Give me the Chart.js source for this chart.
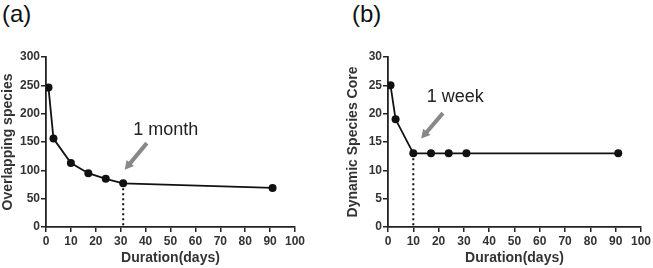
<!DOCTYPE html>
<html>
<head>
<meta charset="utf-8">
<script src="https://cdn.jsdelivr.net/npm/chart.js@4.4.1/dist/chart.umd.min.js"></script>
<style>
  html, body { margin: 0; padding: 0; background: #fff; }
  body { width: 653px; height: 268px; position: relative; overflow: hidden; font-family: "Liberation Sans", Arial, sans-serif; }
  .panel { position: absolute; top: 0; height: 268px; }
  .tag { position: absolute; top: 0; font-size: 24px; color: #111; }
</style>
</head>
<body>
<div class="tag" style="left:2px;">(a)</div>
<div class="tag" style="left:352px;">(b)</div>
<div class="panel" style="left:0; width:326px;"><canvas id="chart-a"></canvas></div>
<div class="panel" style="left:330px; width:323px;"><canvas id="chart-b"></canvas></div>
<script>
// sampling days shared by both panels
const days = [1, 3, 10, 17, 24, 31, 91];
const overlapping = [246, 156, 113, 95, 85, 77, 69];
const dynamicCore = [25, 19, 13, 13, 13, 13, 13];
const xTicks = [0, 10, 20, 30, 40, 50, 60, 70, 80, 90, 100];

// annotation: cutoff day, arrow tail/head and label, in data units
const noteA = { day: 31, value: 77, label: '1 month', from: [40.5, 148], to: [31.6, 101], text: [35, 171] };
const noteB = { day: 10, value: 13, label: '1 week', from: [21.7, 20.1], to: [13.1, 15.6], text: [15.3, 23] };

const annotate = {
    id: 'annotate',
    afterDatasetsDraw(chart, args, opts) {
        const n = opts.note;
        const x = chart.scales.x, y = chart.scales.y;
        const c = chart.ctx;
        c.save();
        // dotted cutoff line
        c.strokeStyle = '#111';
        c.lineWidth = 2;
        c.setLineDash([2, 3]);
        c.beginPath();
        c.moveTo(x.getPixelForValue(n.day), y.getPixelForValue(n.value) + 5);
        c.lineTo(x.getPixelForValue(n.day), y.getPixelForValue(0));
        c.stroke();
        c.setLineDash([]);
        // arrow
        const x1 = x.getPixelForValue(n.from[0]), y1 = y.getPixelForValue(n.from[1]);
        const x2 = x.getPixelForValue(n.to[0]), y2 = y.getPixelForValue(n.to[1]);
        const ang = Math.atan2(y2 - y1, x2 - x1);
        const head = 10;
        c.strokeStyle = '#888';
        c.fillStyle = '#888';
        c.lineWidth = 4;
        c.beginPath();
        c.moveTo(x1, y1);
        c.lineTo(x2 - Math.cos(ang) * head * 0.8, y2 - Math.sin(ang) * head * 0.8);
        c.stroke();
        c.beginPath();
        c.moveTo(x2, y2);
        c.lineTo(x2 - head * Math.cos(ang - 0.5), y2 - head * Math.sin(ang - 0.5));
        c.lineTo(x2 - head * Math.cos(ang + 0.5), y2 - head * Math.sin(ang + 0.5));
        c.closePath();
        c.fill();
        // label
        c.fillStyle = '#222';
        c.font = '18px "Liberation Sans", Arial, sans-serif';
        c.textBaseline = 'middle';
        c.fillText(n.label, x.getPixelForValue(n.text[0]), y.getPixelForValue(n.text[1]));
        c.restore();
    }
};

function makeChart(id, values, yMax, yStep, yTitle, note, axisW, padLeft, padRight) {
    const tickFont = { family: '"Liberation Sans", Arial, sans-serif', size: 12, weight: 'bold' };
    const titleFont = { family: '"Liberation Sans", Arial, sans-serif', size: 14, weight: 'bold' };
    return new Chart(document.getElementById(id), {
        type: 'scatter',
        data: {
            datasets: [{
                data: days.map((d, i) => ({ x: d, y: values[i] })),
                showLine: true,
                borderColor: '#111',
                borderWidth: 1.8,
                backgroundColor: '#111',
                pointRadius: 4,
                pointBorderWidth: 0
            }]
        },
        options: {
            responsive: true,
            maintainAspectRatio: false,
            animation: false,
            layout: { padding: { left: padLeft, right: padRight, top: 57, bottom: 0 } },
            plugins: { legend: { display: false }, tooltip: { enabled: false }, annotate: { note } },
            scales: {
                x: {
                    type: 'linear', min: 0, max: 100,
                    afterBuildTicks: s => { s.ticks = xTicks.map(v => ({ value: v })); },
                    afterFit: s => { s.height = 41; },
                    grid: { display: true, drawOnChartArea: false, drawTicks: true, tickLength: 5, color: '#222', lineWidth: 1.5 },
                    border: { color: '#222', width: 1.8 },
                    ticks: { color: '#333', font: tickFont, padding: 2, maxRotation: 0 },
                    title: { display: true, text: 'Duration(days)', color: '#333', font: titleFont, padding: { top: 0, bottom: 1 } }
                },
                y: {
                    type: 'linear', min: 0, max: yMax,
                    ticks: { stepSize: yStep, color: '#333', font: tickFont, padding: 1 },
                    afterFit: s => { s.width = axisW; },
                    grid: { display: true, drawOnChartArea: false, drawTicks: true, tickLength: 5, color: '#222', lineWidth: 1.5 },
                    border: { color: '#222', width: 1.8 },
                    title: { display: true, text: yTitle, color: '#333', font: titleFont, padding: { top: 0, bottom: 0 } }
                }
            }
        },
        plugins: [annotate]
    });
}

makeChart('chart-a', overlapping, 300, 50, 'Overlapping species', noteA, 46, 0, 31);
makeChart('chart-b', dynamicCore, 30, 5, 'Dynamic Species Core', noteB, 43, 15, 12);
</script>
</body>
</html>
